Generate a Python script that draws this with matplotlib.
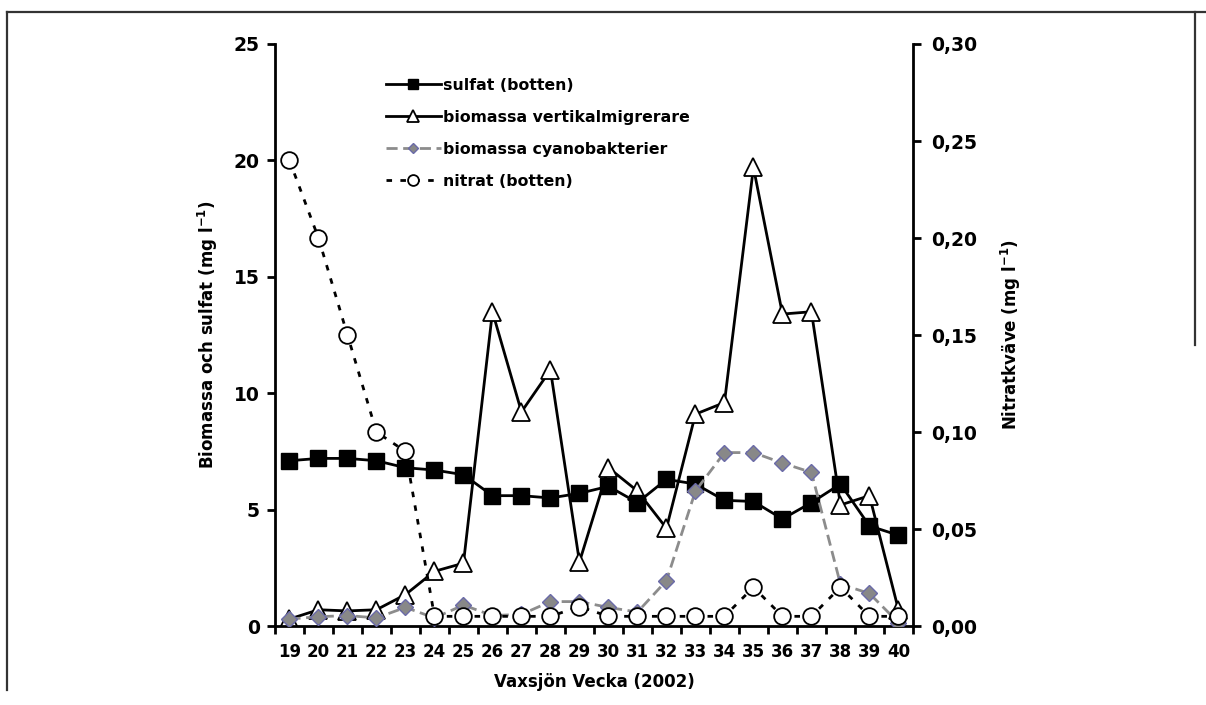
import matplotlib
matplotlib.use('Agg')
import matplotlib.pyplot as plt
from matplotlib.lines import Line2D
from matplotlib.ticker import FuncFormatter
import numpy as np

plt.rcParams['font.family'] = ['DejaVu Sans']
plt.rcParams['font.weight'] = 'bold'
plt.rcParams['mathtext.default'] = 'bf'

weeks = list(range(19, 41))

sulfat = [7.1, 7.2, 7.2, 7.1, 6.8, 6.7, 6.5, 5.6, 5.6, 5.5, 5.7,
          6.0, 5.3, 6.3, 6.1, 5.4, 5.35, 4.6, 5.3, 6.1, 4.3, 3.9]
vertikal = [0.3, 0.7, 0.65, 0.7, 1.35, 2.35, 2.7, 13.5, 9.2, 11.0, 2.75,
            6.8, 5.8, 4.2, 9.1, 9.6, 19.7, 13.4, 13.5, 5.2, 5.6, 0.7]
cyano = [0.3, 0.4, 0.45, 0.35, 0.8, 0.35, 0.9, 0.45, 0.5, 1.05, 1.05,
         0.8, 0.6, 1.95, 5.8, 7.45, 7.45, 7.0, 6.6, 1.8, 1.4, 0.15]
nitrat = [0.24, 0.20, 0.15, 0.10, 0.09, 0.005, 0.005, 0.005, 0.005, 0.005, 0.01,
          0.005, 0.005, 0.005, 0.005, 0.005, 0.02, 0.005, 0.005, 0.02, 0.005, 0.005]

fig = plt.figure(figsize=(12.06, 7.05), dpi=100)
ax = fig.add_axes([0.228, 0.112, 0.529, 0.8256])
ax2 = ax.twinx()

lw = 2.0
l_vert, = ax.plot(weeks, vertikal, color='black', lw=lw, marker='^', ms=13,
                  mfc='white', mec='black', mew=1.3,
                  label='biomassa vertikalmigrerare', zorder=2)
l_sulf, = ax.plot(weeks, sulfat, color='black', lw=lw, marker='s', ms=12,
                  mfc='black', mec='black', label='sulfat (botten)', zorder=3)
l_cyan, = ax.plot(weeks, cyano, color='#8c8c8c', lw=lw, ls=(0, (4, 2)),
                  marker='D', ms=8, mfc='#888888', mec='#6a6aa8', mew=1.0,
                  label='biomassa cyanobakterier', zorder=4)
l_nit, = ax2.plot(weeks, nitrat, color='black', lw=lw, ls=(0, (2, 3)),
                  marker='o', ms=12, mfc='white', mec='black', mew=1.3,
                  label='nitrat (botten)')

ax.set_xlim(18.5, 40.5)
ax.set_ylim(0, 25)
ax2.set_ylim(0, 0.30)
ax.set_yticks(np.arange(0, 26, 5))
ax2.set_yticks(np.arange(0, 0.31, 0.05))
ax2.yaxis.set_major_formatter(FuncFormatter(lambda v, p: f'{v:.2f}'.replace('.', ',')))

ax.set_xticks(np.arange(18.5, 41, 1))
ax.set_xticklabels([])
ax.set_xticks(weeks, minor=True)
ax.set_xticklabels([str(w) for w in weeks], minor=True, fontsize=12, fontweight='bold')
ax.tick_params(axis='x', which='major', direction='out', length=6, width=2)
ax.tick_params(axis='x', which='minor', length=0, pad=12)
ax.tick_params(axis='y', direction='out', length=6, width=2, labelsize=13.5, pad=5)
ax2.tick_params(axis='y', direction='out', length=6, width=2, labelsize=13.5, pad=7)

for s in ['top', 'right']:
    ax.spines[s].set_visible(False)
for s in ['top', 'left', 'bottom']:
    ax2.spines[s].set_visible(False)
ax.spines['left'].set_linewidth(2)
ax.spines['bottom'].set_linewidth(2)
ax2.spines['right'].set_linewidth(2)

ax.set_ylabel('Biomassa och sulfat (mg l$^{-1}$)', fontsize=12, fontweight='bold', labelpad=10)
ax2.set_ylabel('Nitratkväve (mg l$^{-1}$)', fontsize=12, fontweight='bold', labelpad=16)
ax.set_xlabel('Vaxsjön Vecka (2002)', fontsize=12, fontweight='bold', labelpad=9)

ax.legend(handles=[l_sulf, l_vert, l_cyan, l_nit], loc='upper left',
          bbox_to_anchor=(0.174, 0.942), frameon=False,
          handlelength=3.5, handletextpad=0.15, labelspacing=1.08,
          markerscale=0.65, borderpad=0, borderaxespad=0,
          prop={'weight': 'bold', 'size': 11.3})

# document frame around the chart
fc = '#333333'
fig.add_artist(Line2D([7 / 1206, 1], [1 - 12 / 705, 1 - 12 / 705], color=fc, lw=1.6))
fig.add_artist(Line2D([7 / 1206, 7 / 1206], [1 - 12 / 705, 1 - 690 / 705], color=fc, lw=1.6))
fig.add_artist(Line2D([1195 / 1206, 1195 / 1206], [1 - 12 / 705, 1 - 345 / 705], color=fc, lw=1.6))

fig.savefig('out.png', dpi=100)
